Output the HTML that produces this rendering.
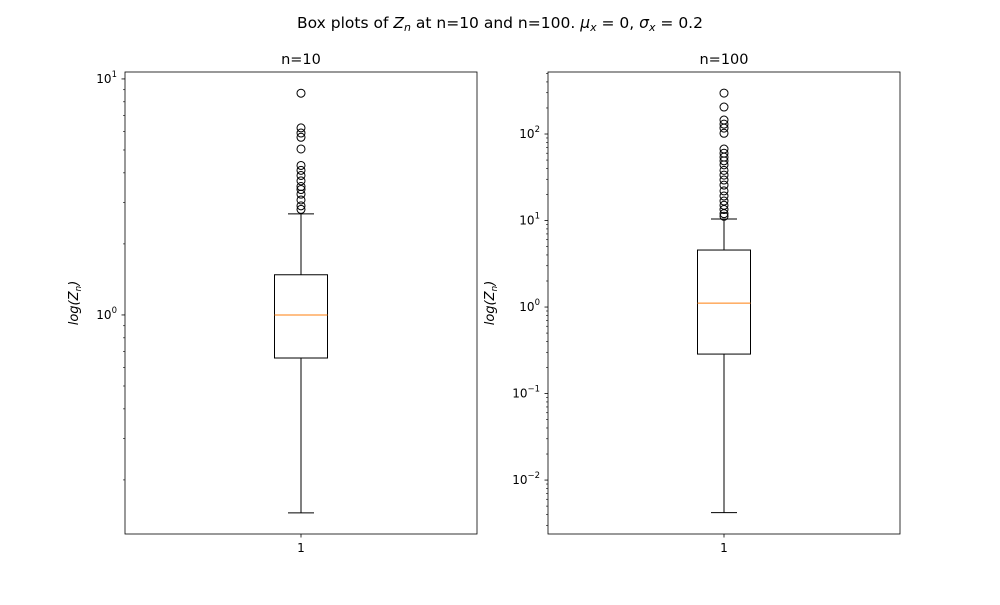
<!DOCTYPE html>
<html><head><meta charset="utf-8"><style>
body{margin:0;background:#fff}
svg{font-family:"DejaVu Sans","Liberation Sans",sans-serif}
</style></head><body>
<svg id="fig" width="1000" height="600" viewBox="0 0 1000 600" xmlns="http://www.w3.org/2000/svg">
<rect width="1000" height="600" fill="#fff"/>
<text x="500" y="28" text-anchor="middle" font-size="15.5">Box plots of <tspan font-style="italic">Z</tspan><tspan font-style="italic" font-size="11" dy="3">n</tspan><tspan dy="-3"> at n=10 and n=100. </tspan><tspan font-style="italic">μ</tspan><tspan font-style="italic" font-size="11" dy="3">x</tspan><tspan dy="-3"> = 0, </tspan><tspan font-style="italic">σ</tspan><tspan font-style="italic" font-size="11" dy="3">x</tspan><tspan dy="-3"> = 0.2</tspan></text>
<g id="p1"></g>
<g id="p2"></g>
</svg>
<script>
const titles = ["n=10", "n=100"];
const whiskerLow = [0.145, 0.0042];
const q1 = [0.657, 0.286];
const median = [1.0, 1.11];
const q3 = [1.48, 4.56];
const whiskerHigh = [2.68, 10.4];
const outliers10 = [8.7, 6.2, 5.9, 5.66, 5.05, 4.3, 4.1, 3.9, 3.7, 3.5, 3.4, 3.25, 3.07, 2.9, 2.8];
const outliers100 = [297, 205, 145, 130, 117, 102, 67, 60, 54, 49, 44, 38, 33.5, 29.4, 25.7, 22, 19.2, 16.8, 15, 13.4, 12, 11.2];
const yDomains = [[0.118, 10.7], [0.00238, 521]];
const majorTicks = [[1, 10], [0.01, 0.1, 1, 10, 100]];
const tickExp = [["0", "1"], ["−2", "−1", "0", "1", "2"]];

const NS = "http://www.w3.org/2000/svg";
function mk(parent, tag, attrs) {
  const e = document.createElementNS(NS, tag);
  for (const k in attrs) e.setAttribute(k, attrs[k]);
  parent.appendChild(e);
  return e;
}
const panels = [{g: "p1", x0: 125, x1: 477}, {g: "p2", x0: 548, x1: 900}];
const Y0 = 72, Y1 = 534;
panels.forEach((p, i) => {
  const g = document.getElementById(p.g);
  const [lo, hi] = yDomains[i];
  const y = v => Y1 - (Math.log10(v) - Math.log10(lo)) / (Math.log10(hi) - Math.log10(lo)) * (Y1 - Y0);
  const cx = (p.x0 + p.x1) / 2;
  const bw = 26.5, cw = 13;
  for (let e = Math.floor(Math.log10(lo)); e <= Math.ceil(Math.log10(hi)); e++) {
    for (let m = 2; m <= 9; m++) {
      const v = m * Math.pow(10, e);
      if (v < lo || v > hi) continue;
      const t = mk(g, "line", {x1: p.x0 - 2, x2: p.x0, y1: y(v), y2: y(v), stroke: "#000", "stroke-width": 0.6});
      
      
    }
  }
  majorTicks[i].forEach((v, j) => {
    const t = mk(g, "line", {x1: p.x0 - 3.5, x2: p.x0, y1: y(v), y2: y(v), stroke: "#000", "stroke-width": 0.8});
    
    
    const tx = mk(g, "text", {x: p.x0 - 8, y: y(v) + 4, "text-anchor": "end", "font-size": 12});
    
    
    tx.innerHTML = '10<tspan font-size="8.5" dy="-6">' + tickExp[i][j] + '</tspan>';
  });
  const wl = mk(g, "line", {x1: cx, x2: cx, y1: y(whiskerLow[i]), y2: y(q1[i]), stroke: "#000"});
   
  const wh = mk(g, "line", {x1: cx, x2: cx, y1: y(whiskerHigh[i]), y2: y(q3[i]), stroke: "#000"});
   
  const cl = mk(g, "line", {x1: cx - cw, x2: cx + cw, y1: y(whiskerLow[i]), y2: y(whiskerLow[i]), stroke: "#000"});
   
  const ch = mk(g, "line", {x1: cx - cw, x2: cx + cw, y1: y(whiskerHigh[i]), y2: y(whiskerHigh[i]), stroke: "#000"});
   
  const bx = mk(g, "rect", {x: cx - bw, width: 2 * bw, y: y(q3[i]), height: y(q1[i]) - y(q3[i]), fill: "none", stroke: "#000"});
   
  const md = mk(g, "line", {x1: cx - bw, x2: cx + bw, y1: y(median[i]), y2: y(median[i]), stroke: "#ff7f0e"});
   
  (i === 0 ? outliers10 : outliers100).forEach(v => {
    const c = mk(g, "circle", {cx: cx, cy: y(v), r: 4, fill: "none", stroke: "#000"});
    
    
  });
  const fr = mk(g, "rect", {x: p.x0, y: Y0, width: p.x1 - p.x0, height: Y1 - Y0, fill: "none", stroke: "#000", "stroke-width": 0.8});
   
  const xt = mk(g, "line", {x1: cx, x2: cx, y1: Y1, y2: Y1 + 3.5, stroke: "#000", "stroke-width": 0.8});
   
  const xl = mk(g, "text", {x: cx, y: Y1 + 18, "text-anchor": "middle", "font-size": 12});
   
  xl.textContent = "1";
  const tt = mk(g, "text", {x: cx, y: 64, "text-anchor": "middle", "font-size": 14.5});
   
  tt.textContent = titles[i];
  const lx = i === 0 ? 78 : 494;
  const yl = mk(g, "text", {x: 0, y: 0, transform: `translate(${lx},303) rotate(-90)`, "text-anchor": "middle", "font-size": 13, "font-style": "italic"});
   
  yl.innerHTML = 'log(Z<tspan font-size="9" dy="3">n</tspan><tspan dy="-3">)</tspan>';
});
</script>
</body></html>
